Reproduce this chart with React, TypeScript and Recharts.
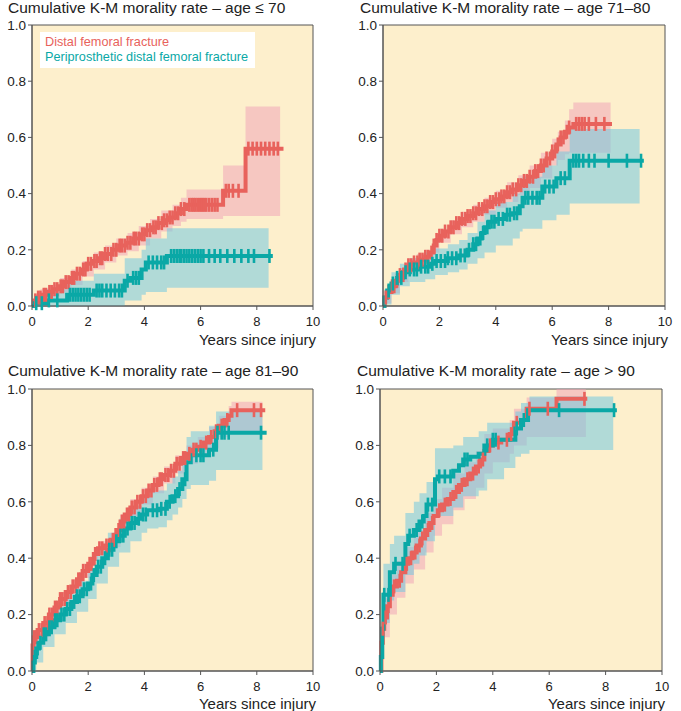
import { Area, CartesianGrid, ComposedChart, Line, Scatter, XAxis, YAxis } from 'recharts'

const RED = '#E8625C'
const TEAL = '#0AA8A6'
const PINK = '#F0A0B6'
const BLUE = '#72C8E0'
const CREAM = '#FDEFCC'
const AXIS = '#555'

const X_TICKS = [0, 2, 4, 6, 8, 10]
const Y_TICKS = [0, 0.2, 0.4, 0.6, 0.8, 1.0]

// age <= 70  ([t, value] steps, CI as [t, lo, hi])
const p1Red = [[0, 0], [0.08, 0.02], [0.2, 0.03], [0.35, 0.04], [0.55, 0.05], [0.75, 0.06], [0.95, 0.07], [1.15, 0.085], [1.35, 0.1], [1.55, 0.115], [1.75, 0.13], [1.95, 0.15], [2.15, 0.16], [2.35, 0.17], [2.6, 0.185], [2.85, 0.2], [3.1, 0.215], [3.35, 0.225], [3.6, 0.24], [3.85, 0.255], [4.05, 0.27], [4.3, 0.28], [4.5, 0.295], [4.7, 0.305], [4.9, 0.315], [5.1, 0.33], [5.3, 0.345], [5.5, 0.36], [6.8, 0.41], [7.6, 0.56], [8.95, 0.56]]
const p1RedCI = [[0, 0, 0.01], [0.08, 0.005, 0.035], [0.3, 0.02, 0.06], [0.6, 0.03, 0.075], [1.0, 0.05, 0.1], [1.4, 0.075, 0.13], [1.8, 0.105, 0.16], [2.2, 0.13, 0.19], [2.6, 0.155, 0.215], [3.0, 0.18, 0.24], [3.4, 0.195, 0.26], [3.8, 0.215, 0.285], [4.2, 0.24, 0.31], [4.6, 0.265, 0.34], [5.0, 0.285, 0.36], [5.3, 0.3, 0.385], [5.5, 0.31, 0.415], [6.8, 0.32, 0.5], [7.6, 0.32, 0.71], [8.83, 0.32, 0.71]]
const p1RedCens = [0.12, 0.22, 0.3, 0.42, 0.5, 0.62, 0.7, 0.8, 0.9, 1.02, 1.1, 1.2, 1.3, 1.42, 1.5, 1.6, 1.7, 1.82, 1.9, 2.0, 2.1, 2.22, 2.3, 2.42, 2.5, 2.6, 2.7, 2.82, 2.9, 3.0, 3.12, 3.2, 3.3, 3.4, 3.5, 3.62, 3.7, 3.8, 3.92, 4.0, 4.1, 4.2, 4.32, 4.4, 4.5, 4.62, 4.7, 4.8, 4.9, 5.0, 5.1, 5.2, 5.3, 5.42, 5.6, 5.68, 5.75, 5.82, 5.9, 5.98, 6.05, 6.12, 6.2, 6.3, 6.4, 6.5, 6.6, 6.9, 7.0, 7.15, 7.35, 7.7, 7.85, 8.0, 8.15, 8.3, 8.45, 8.6, 8.75]
const p1Teal = [[0, 0], [0.1, 0.01], [0.5, 0.02], [1.25, 0.04], [2.2, 0.055], [3.3, 0.09], [3.5, 0.1], [3.9, 0.13], [4.05, 0.155], [4.8, 0.178], [8.57, 0.178]]
const p1TealCI = [[0, 0, 0], [0.1, 0, 0.04], [0.5, 0, 0.06], [1.25, 0, 0.09], [2.2, 0, 0.115], [3.3, 0.02, 0.17], [3.9, 0.04, 0.2], [4.05, 0.05, 0.24], [4.8, 0.065, 0.277], [8.42, 0.065, 0.277]]
const p1TealCens = [0.15, 0.35, 0.6, 0.9, 1.35, 1.45, 1.55, 1.65, 1.75, 1.85, 1.95, 2.05, 2.3, 2.4, 2.5, 2.65, 2.8, 2.95, 3.1, 3.2, 3.4, 3.6, 3.7, 3.8, 4.15, 4.3, 4.45, 4.6, 4.7, 4.95, 5.05, 5.15, 5.25, 5.3, 5.4, 5.5, 5.6, 5.7, 5.8, 5.9, 6.0, 6.1, 6.3, 6.5, 6.7, 6.95, 7.2, 7.45, 7.7, 7.9, 8.45]

// age 71-80
const p2Red = [[0, 0], [0.05, 0.03], [0.15, 0.05], [0.3, 0.07], [0.45, 0.09], [0.6, 0.11], [0.75, 0.13], [0.9, 0.145], [1.05, 0.155], [1.3, 0.165], [1.5, 0.175], [1.65, 0.19], [1.8, 0.215], [1.9, 0.235], [2.0, 0.25], [2.2, 0.265], [2.4, 0.28], [2.6, 0.295], [2.8, 0.31], [3.0, 0.32], [3.2, 0.33], [3.4, 0.345], [3.6, 0.355], [3.8, 0.37], [4.0, 0.38], [4.2, 0.39], [4.4, 0.405], [4.6, 0.415], [4.8, 0.43], [5.0, 0.445], [5.2, 0.46], [5.4, 0.48], [5.6, 0.5], [5.8, 0.525], [6.0, 0.55], [6.15, 0.575], [6.3, 0.6], [6.45, 0.62], [6.6, 0.635], [6.75, 0.648], [8.12, 0.648]]
const p2RedCI = [[0, 0, 0.01], [0.05, 0.01, 0.05], [0.3, 0.045, 0.09], [0.6, 0.085, 0.135], [0.9, 0.12, 0.17], [1.2, 0.14, 0.185], [1.5, 0.155, 0.2], [1.8, 0.19, 0.24], [2.0, 0.225, 0.275], [2.4, 0.255, 0.305], [2.8, 0.28, 0.335], [3.2, 0.3, 0.36], [3.6, 0.325, 0.385], [4.0, 0.35, 0.41], [4.4, 0.37, 0.44], [4.8, 0.395, 0.465], [5.2, 0.42, 0.5], [5.6, 0.455, 0.545], [6.0, 0.5, 0.595], [6.2, 0.52, 0.62], [6.45, 0.54, 0.66], [6.6, 0.545, 0.7], [6.75, 0.545, 0.724], [8.07, 0.545, 0.724]]
const p2RedCens = [0.1, 0.2, 0.32, 0.4, 0.5, 0.6, 0.72, 0.8, 0.9, 1.0, 1.1, 1.22, 1.3, 1.4, 1.5, 1.6, 1.72, 1.8, 1.9, 2.0, 2.1, 2.2, 2.32, 2.4, 2.5, 2.6, 2.7, 2.8, 2.92, 3.0, 3.1, 3.2, 3.3, 3.4, 3.52, 3.6, 3.7, 3.8, 3.9, 4.0, 4.12, 4.2, 4.3, 4.4, 4.5, 4.6, 4.72, 4.8, 4.9, 5.0, 5.1, 5.2, 5.32, 5.4, 5.5, 5.6, 5.7, 5.8, 5.92, 6.0, 6.1, 6.2, 6.3, 6.4, 6.52, 6.6, 6.85, 6.95, 7.05, 7.15, 7.3, 7.55, 7.85]
const p2Teal = [[0, 0], [0.05, 0.03], [0.15, 0.055], [0.3, 0.08], [0.5, 0.1], [0.7, 0.12], [0.95, 0.13], [1.3, 0.14], [1.7, 0.15], [1.85, 0.16], [2.3, 0.17], [2.7, 0.18], [3.0, 0.2], [3.2, 0.22], [3.35, 0.24], [3.5, 0.26], [3.6, 0.28], [3.75, 0.3], [4.0, 0.31], [4.3, 0.325], [4.6, 0.33], [4.85, 0.355], [4.95, 0.385], [5.65, 0.425], [6.15, 0.455], [6.62, 0.517], [9.25, 0.517]]
const p2TealCI = [[0, 0, 0.01], [0.05, 0.005, 0.06], [0.3, 0.04, 0.12], [0.6, 0.07, 0.15], [0.95, 0.085, 0.17], [1.5, 0.095, 0.19], [1.85, 0.11, 0.205], [2.3, 0.12, 0.22], [2.7, 0.13, 0.235], [3.0, 0.15, 0.26], [3.35, 0.17, 0.3], [3.6, 0.19, 0.34], [4.0, 0.215, 0.37], [4.6, 0.24, 0.4], [4.85, 0.265, 0.43], [4.95, 0.275, 0.46], [5.65, 0.305, 0.5], [6.15, 0.325, 0.55], [6.62, 0.365, 0.63], [9.1, 0.365, 0.63]]
const p2TealCens = [0.2, 0.35, 0.5, 0.65, 0.8, 0.95, 1.1, 1.2, 1.35, 1.5, 1.6, 1.75, 1.9, 2.05, 2.2, 2.3, 2.45, 2.6, 2.75, 2.9, 3.05, 3.2, 3.3, 3.45, 3.55, 3.7, 3.85, 3.95, 4.1, 4.25, 4.4, 4.5, 4.65, 4.75, 5.05, 5.15, 5.3, 5.45, 5.55, 5.75, 5.9, 6.05, 6.3, 6.45, 6.75, 6.85, 6.95, 7.1, 7.3, 7.5, 8.0, 8.65, 9.15]

// age 81-90
const p3Red = [[0, 0], [0.02, 0.09], [0.06, 0.12], [0.2, 0.145], [0.4, 0.17], [0.6, 0.2], [0.8, 0.225], [1.0, 0.255], [1.2, 0.28], [1.4, 0.3], [1.6, 0.325], [1.8, 0.355], [2.0, 0.38], [2.2, 0.415], [2.35, 0.435], [2.6, 0.445], [2.8, 0.465], [3.0, 0.5], [3.15, 0.53], [3.3, 0.555], [3.5, 0.58], [3.7, 0.6], [3.9, 0.62], [4.1, 0.64], [4.3, 0.66], [4.5, 0.68], [4.7, 0.695], [4.9, 0.71], [5.1, 0.735], [5.3, 0.755], [5.5, 0.77], [5.7, 0.785], [5.9, 0.795], [6.1, 0.81], [6.3, 0.83], [6.5, 0.85], [6.65, 0.87], [6.85, 0.89], [7.0, 0.905], [7.1, 0.925], [8.3, 0.925]]
const p3RedCI = [[0, 0, 0], [0.02, 0.06, 0.12], [0.2, 0.12, 0.17], [0.6, 0.175, 0.225], [1.0, 0.23, 0.28], [1.4, 0.275, 0.325], [1.8, 0.33, 0.38], [2.2, 0.39, 0.44], [2.35, 0.41, 0.46], [2.8, 0.44, 0.49], [3.15, 0.5, 0.555], [3.5, 0.55, 0.61], [3.9, 0.59, 0.65], [4.3, 0.63, 0.69], [4.7, 0.665, 0.725], [5.1, 0.7, 0.765], [5.5, 0.735, 0.8], [5.9, 0.76, 0.83], [6.3, 0.79, 0.865], [6.65, 0.83, 0.905], [7.0, 0.85, 0.94], [7.1, 0.85, 0.955], [8.2, 0.85, 0.955]]
const p3RedCens = [0.08, 0.15, 0.25, 0.35, 0.45, 0.55, 0.62, 0.72, 0.82, 0.9, 1.0, 1.08, 1.18, 1.28, 1.38, 1.45, 1.55, 1.65, 1.72, 1.82, 1.92, 2.05, 2.12, 2.25, 2.4, 2.5, 2.65, 2.75, 2.88, 2.95, 3.08, 3.2, 3.28, 3.38, 3.45, 3.55, 3.65, 3.75, 3.85, 3.95, 4.05, 4.15, 4.25, 4.35, 4.45, 4.55, 4.62, 4.75, 4.85, 4.95, 5.05, 5.15, 5.25, 5.38, 5.45, 5.6, 5.75, 5.85, 6.0, 6.2, 6.38, 6.55, 6.75, 6.95, 7.3, 7.9, 8.15]
const p3Teal = [[0, 0], [0.05, 0.03], [0.1, 0.05], [0.15, 0.08], [0.25, 0.1], [0.4, 0.13], [0.6, 0.155], [0.8, 0.18], [1.0, 0.2], [1.2, 0.22], [1.4, 0.245], [1.6, 0.265], [1.8, 0.29], [2.0, 0.31], [2.15, 0.34], [2.3, 0.37], [2.5, 0.4], [2.7, 0.43], [2.9, 0.46], [3.1, 0.48], [3.3, 0.505], [3.5, 0.525], [3.7, 0.54], [3.9, 0.555], [4.1, 0.57], [4.5, 0.575], [4.8, 0.6], [5.0, 0.62], [5.2, 0.645], [5.35, 0.68], [5.5, 0.74], [5.65, 0.765], [6.3, 0.785], [6.55, 0.845], [8.35, 0.845]]
const p3TealCI = [[0, 0, 0], [0.05, 0, 0.07], [0.15, 0.03, 0.13], [0.4, 0.085, 0.18], [0.8, 0.13, 0.23], [1.2, 0.17, 0.275], [1.6, 0.21, 0.32], [2.0, 0.255, 0.365], [2.3, 0.31, 0.43], [2.7, 0.37, 0.49], [3.1, 0.42, 0.54], [3.5, 0.46, 0.585], [3.9, 0.49, 0.615], [4.1, 0.505, 0.635], [4.5, 0.51, 0.64], [4.8, 0.535, 0.665], [5.0, 0.555, 0.69], [5.2, 0.58, 0.71], [5.35, 0.61, 0.75], [5.5, 0.645, 0.83], [5.65, 0.66, 0.85], [6.3, 0.675, 0.87], [6.55, 0.713, 0.92], [8.2, 0.713, 0.92]]
const p3TealCens = [0.1, 0.2, 0.3, 0.42, 0.5, 0.62, 0.7, 0.82, 0.9, 1.05, 1.15, 1.25, 1.35, 1.5, 1.6, 1.7, 1.85, 1.95, 2.1, 2.2, 2.35, 2.45, 2.6, 2.75, 2.85, 3.0, 3.15, 3.25, 3.4, 3.55, 3.65, 3.8, 3.95, 4.05, 4.3, 4.45, 4.6, 4.75, 4.9, 5.1, 5.25, 5.45, 5.85, 6.0, 6.1, 6.45, 6.6, 6.75, 6.85, 7.0, 8.15]

// age > 90
const p4Red = [[0, 0], [0.05, 0.1], [0.1, 0.15], [0.15, 0.19], [0.25, 0.23], [0.35, 0.27], [0.45, 0.3], [0.6, 0.32], [0.75, 0.35], [0.9, 0.38], [1.0, 0.4], [1.15, 0.42], [1.3, 0.445], [1.45, 0.47], [1.6, 0.5], [1.75, 0.525], [1.9, 0.55], [2.05, 0.57], [2.2, 0.59], [2.4, 0.61], [2.6, 0.635], [2.8, 0.66], [3.0, 0.68], [3.2, 0.7], [3.4, 0.725], [3.55, 0.75], [3.7, 0.78], [3.85, 0.8], [4.0, 0.81], [4.3, 0.82], [4.6, 0.84], [4.75, 0.88], [5.0, 0.89], [5.2, 0.93], [6.26, 0.965], [7.35, 0.965]]
const p4RedCI = [[0, 0, 0], [0.05, 0.04, 0.16], [0.15, 0.12, 0.26], [0.35, 0.2, 0.34], [0.6, 0.26, 0.39], [0.9, 0.31, 0.44], [1.2, 0.36, 0.5], [1.6, 0.42, 0.56], [1.9, 0.48, 0.61], [2.2, 0.52, 0.65], [2.6, 0.57, 0.7], [3.0, 0.61, 0.74], [3.4, 0.65, 0.78], [3.7, 0.7, 0.84], [4.0, 0.74, 0.86], [4.6, 0.77, 0.89], [4.75, 0.8, 0.93], [5.2, 0.83, 0.97], [6.26, 0.83, 1.0], [7.3, 0.83, 1.0]]
const p4RedCens = [0.1, 0.2, 0.3, 0.5, 0.7, 0.95, 1.1, 1.25, 1.4, 1.5, 1.7, 1.85, 2.1, 2.3, 2.5, 2.7, 2.9, 3.1, 3.3, 3.5, 3.65, 3.9, 4.2, 4.5, 4.65, 4.85, 5.3, 5.95, 7.25]
const p4Teal = [[0, 0], [0.03, 0.05], [0.08, 0.15], [0.12, 0.27], [0.35, 0.35], [0.5, 0.38], [0.9, 0.45], [1.0, 0.48], [1.2, 0.5], [1.4, 0.53], [1.55, 0.55], [1.65, 0.59], [1.95, 0.68], [2.05, 0.69], [2.6, 0.71], [2.8, 0.73], [2.95, 0.75], [3.2, 0.76], [3.5, 0.77], [3.7, 0.8], [4.0, 0.82], [4.8, 0.86], [5.0, 0.89], [5.25, 0.925], [8.4, 0.925]]
const p4TealCI = [[0, 0, 0], [0.03, 0, 0.13], [0.08, 0.06, 0.28], [0.12, 0.17, 0.38], [0.35, 0.25, 0.45], [0.5, 0.28, 0.48], [0.9, 0.34, 0.56], [1.2, 0.38, 0.6], [1.4, 0.41, 0.63], [1.65, 0.46, 0.67], [1.95, 0.55, 0.79], [2.6, 0.58, 0.8], [2.95, 0.62, 0.83], [3.5, 0.64, 0.85], [3.8, 0.68, 0.88], [4.4, 0.72, 0.88], [4.8, 0.76, 0.92], [5.0, 0.77, 0.95], [5.3, 0.784, 0.973], [8.27, 0.784, 0.973]]
const p4TealCens = [0.15, 0.3, 0.55, 0.8, 1.05, 1.3, 1.5, 1.7, 1.85, 2.1, 2.3, 2.5, 3.0, 3.1, 3.8, 4.0, 4.1, 4.85, 5.1, 6.35, 8.3]

// value of the step curve at time t (censor marks sit on the curve)
function stepAt(curve: number[][], t: number) {
  let v = 0
  for (const [x, y] of curve) if (x <= t) v = y
  return v
}
const toLine = (c: number[][]) => c.map(([t, v]) => ({ t, v }))
const toBand = (c: number[][]) => c.map(([t, lo, hi]) => ({ t, ci: [lo, hi] }))
const toMarks = (times: number[], c: number[][]) => times.map((t) => ({ t, v: stepAt(c, t) }))

const censor = (color: string) => (props: any) => (
  <rect x={props.cx - 1.3} y={props.cy - 7} width={2.6} height={14} fill={color} />
)

type PanelProps = {
  left: number
  top: number
  width: number
  height: number
  yw: number
  mt: number
  mr: number
  mb: number
  title: string
  titleX: number
  titleY: number
  labelRight: number
  labelY: number
  red: number[][]
  redCI: number[][]
  redCens: number[]
  teal: number[][]
  tealCI: number[][]
  tealCens: number[]
}

function KMPanel(p: PanelProps) {
  return (
    <>
      <div style={{ position: 'absolute', left: p.left, top: p.top }}>
        <ComposedChart width={p.width} height={p.height} margin={{ top: p.mt, right: p.mr, bottom: p.mb, left: 0 }}>
          <CartesianGrid fill={CREAM} stroke={AXIS} horizontalValues={[0, 1]} verticalValues={[0, 10]} />
          <XAxis
            type="number"
            dataKey="t"
            domain={[0, 10]}
            ticks={X_TICKS}
            height={30}
            stroke={AXIS}
            tickSize={4}
            tickMargin={7}
            tick={{ fill: '#222', fontSize: 13 }}
          />
          <YAxis
            type="number"
            domain={[0, 1]}
            ticks={Y_TICKS}
            width={p.yw}
            stroke={AXIS}
            tickSize={4}
            tickMargin={2}
            tick={{ fill: '#222', fontSize: 13.5 }}
            tickFormatter={(v: number) => v.toFixed(1)}
          />
          <Area data={toBand(p.redCI)} dataKey="ci" type="stepAfter" stroke="none" fill={PINK} fillOpacity={0.5} isAnimationActive={false} />
          <Area data={toBand(p.tealCI)} dataKey="ci" type="stepAfter" stroke="none" fill={BLUE} fillOpacity={0.55} isAnimationActive={false} />
          <Line data={toLine(p.red)} dataKey="v" type="stepAfter" stroke={RED} strokeWidth={4} dot={false} isAnimationActive={false} />
          <Line data={toLine(p.teal)} dataKey="v" type="stepAfter" stroke={TEAL} strokeWidth={4} dot={false} isAnimationActive={false} />
          <Scatter data={toMarks(p.redCens, p.red)} dataKey="v" shape={censor(RED)} isAnimationActive={false} />
          <Scatter data={toMarks(p.tealCens, p.teal)} dataKey="v" shape={censor(TEAL)} isAnimationActive={false} />
        </ComposedChart>
      </div>
      <div style={{ position: 'absolute', left: p.titleX, top: p.titleY, fontSize: 15.5, lineHeight: '15px', color: '#222', whiteSpace: 'nowrap' }}>
        {p.title}
      </div>
      <div style={{ position: 'absolute', right: 681 - p.labelRight, top: p.labelY, fontSize: 15, lineHeight: '14px', color: '#222', whiteSpace: 'nowrap' }}>
        Years since injury
      </div>
    </>
  )
}

export default function App() {
  return (
    <div style={{ position: 'absolute', left: 0, top: 0, width: 681, height: 711, background: '#fff', fontFamily: '"Liberation Sans", Arial, sans-serif' }}>
      <KMPanel left={0} top={0} width={340} height={355} yw={32} mt={25} mr={27} mb={19}
        title="Cumulative K-M morality rate – age ≤ 70" titleX={8} titleY={0} labelRight={316} labelY={333}
        red={p1Red} redCI={p1RedCI} redCens={p1RedCens} teal={p1Teal} tealCI={p1TealCI} tealCens={p1TealCens} />
      <KMPanel left={340} top={0} width={341} height={355} yw={43} mt={25} mr={16} mb={19}
        title="Cumulative K-M morality rate – age 71–80" titleX={360} titleY={0} labelRight={668} labelY={333}
        red={p2Red} redCI={p2RedCI} redCens={p2RedCens} teal={p2Teal} tealCI={p2TealCI} tealCens={p2TealCens} />
      <KMPanel left={0} top={355} width={340} height={356} yw={32} mt={34} mr={27} mb={10}
        title="Cumulative K-M morality rate – age 81–90" titleX={8} titleY={363} labelRight={316} labelY={697}
        red={p3Red} redCI={p3RedCI} redCens={p3RedCens} teal={p3Teal} tealCI={p3TealCI} tealCens={p3TealCens} />
      <KMPanel left={340} top={355} width={341} height={356} yw={40} mt={34} mr={19} mb={10}
        title="Cumulative K-M morality rate – age > 90" titleX={357} titleY={363} labelRight={665} labelY={697}
        red={p4Red} redCI={p4RedCI} redCens={p4RedCens} teal={p4Teal} tealCI={p4TealCI} tealCens={p4TealCens} />
      <div style={{ position: 'absolute', left: 40, top: 32, width: 215, height: 36, background: '#fff', fontSize: 12.7, lineHeight: '15px' }}>
        <div style={{ position: 'absolute', left: 5, top: 3, color: RED, whiteSpace: 'nowrap' }}>Distal femoral fracture</div>
        <div style={{ position: 'absolute', left: 5, top: 18, color: TEAL, whiteSpace: 'nowrap' }}>Periprosthetic distal femoral fracture</div>
      </div>
    </div>
  )
}
